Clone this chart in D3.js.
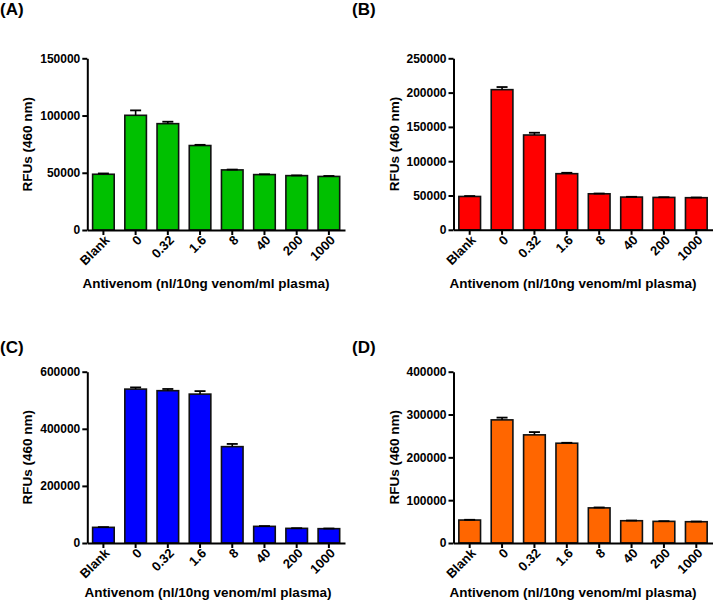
<!DOCTYPE html>
<html>
<head>
<meta charset="utf-8">
<script src="https://cdn.jsdelivr.net/npm/d3@7"></script>
<style>
  html, body { margin: 0; padding: 0; background: #fff; }
  svg { display: block; }
  text { font-family: "Liberation Sans", Arial, sans-serif; font-weight: bold; fill: #000; }
</style>
</head>
<body>
<svg id="chart" width="714" height="604"></svg>
<script>
const categories = ["Blank", "0", "0.32", "1.6", "8", "40", "200", "1000"];

const valuesA = [48700, 100200, 92900, 73800, 52500, 48400, 47500, 46800];
const errorsA = [700, 4300, 1700, 600, 300, 300, 200, 400];
const ticksA = [0, 50000, 100000, 150000];

const valuesB = [48600, 204300, 138200, 81800, 52500, 47700, 47200, 46800];
const errorsB = [600, 3800, 3300, 1300, 400, 400, 300, 300];
const ticksB = [0, 50000, 100000, 150000, 200000, 250000];

const valuesC = [54800, 539000, 533500, 521500, 337500, 58300, 51300, 50200];
const errorsC = [900, 6000, 6000, 10500, 9500, 1000, 600, 600];
const ticksC = [0, 200000, 400000, 600000];

const valuesD = [53600, 287500, 252500, 233000, 82000, 52000, 50500, 49700];
const errorsD = [600, 5300, 6500, 1000, 1000, 500, 500, 500];
const ticksD = [0, 100000, 200000, 300000, 400000];

const panelLabels = ["(A)", "(B)", "(C)", "(D)"];
const yTitle = "RFUs (460 nm)";
const xTitle = "Antivenom (nl/10ng venom/ml plasma)";

const panels = [
  { label: panelLabels[0], values: valuesA, errors: errorsA, ticks: ticksA, color: "#00c000",
    x0: 87.3, x1: 345, yTop: 58.3, yBot: 230, lx: 0, ly: 15, ytx: 27, xtx: 206, xty: 283 },
  { label: panelLabels[1], values: valuesB, errors: errorsB, ticks: ticksB, color: "#ff0000",
    x0: 453.5, x1: 712.5, yTop: 58.3, yBot: 229.8, lx: 352, ly: 15, ytx: 394, xty: 283, xtx: 573 },
  { label: panelLabels[2], values: valuesC, errors: errorsC, ticks: ticksC, color: "#0000ff",
    x0: 87.3, x1: 345, yTop: 371.7, yBot: 543, lx: 0, ly: 353, ytx: 27, xtx: 208, xty: 592 },
  { label: panelLabels[3], values: valuesD, errors: errorsD, ticks: ticksD, color: "#ff6600",
    x0: 453.5, x1: 712.5, yTop: 371.7, yBot: 543, lx: 352, ly: 353, ytx: 394, xtx: 573, xty: 592 }
];

const svg = d3.select("#chart");

panels.forEach(p => {
  const g = svg.append("g");
  const x = d3.scaleBand().domain(categories).range([p.x0, p.x1])
    .paddingInner(0.33).paddingOuter(0.165);
  const ymax = p.ticks[p.ticks.length - 1];
  const y = d3.scaleLinear().domain([0, ymax]).range([p.yBot, p.yTop]);
  const data = categories.map((c, i) => ({ c, v: p.values[i], e: p.errors[i] }));

  // bars
  g.selectAll("rect.bar").data(data).enter().append("rect")
    .attr("class", "bar")
    .attr("x", d => x(d.c))
    .attr("width", x.bandwidth())
    .attr("y", d => y(d.v))
    .attr("height", d => y(0) - y(d.v))
    .attr("fill", p.color)
    .attr("stroke", "#111")
    .attr("stroke-width", 1.6);

  // error bars (upper only)
  const capW = 11;
  const eg = g.selectAll("g.err").data(data).enter().append("g").attr("class", "err");
  eg.append("line")
    .attr("x1", d => x(d.c) + x.bandwidth() / 2)
    .attr("x2", d => x(d.c) + x.bandwidth() / 2)
    .attr("y1", d => y(d.v))
    .attr("y2", d => y(d.v + d.e))
    .attr("stroke", "#000").attr("stroke-width", 1.6);
  eg.append("line")
    .attr("x1", d => x(d.c) + x.bandwidth() / 2 - capW / 2)
    .attr("x2", d => x(d.c) + x.bandwidth() / 2 + capW / 2)
    .attr("y1", d => y(d.v + d.e))
    .attr("y2", d => y(d.v + d.e))
    .attr("stroke", "#000").attr("stroke-width", 1.8);

  // y axis
  const yAxis = d3.axisLeft(y).tickValues(p.ticks).tickFormat(d3.format("d"))
    .tickSize(5).tickSizeOuter(0).tickPadding(2);
  const ya = g.append("g").attr("transform", `translate(${p.x0},0)`).call(yAxis);
  ya.select(".domain").attr("stroke", "#000").attr("stroke-width", 2);
  ya.selectAll(".tick line").attr("stroke", "#000").attr("stroke-width", 2);
  ya.selectAll(".tick text").style("font-size", "12px").style("font-weight", "bold")
    .attr("fill", "#000").style("font-family", "'Liberation Sans', Arial, sans-serif");

  // x axis
  const xAxis = d3.axisBottom(x).tickSize(5).tickSizeOuter(0);
  const xa = g.append("g").attr("transform", `translate(0,${p.yBot})`).call(xAxis);
  xa.select(".domain").attr("stroke", "#000").attr("stroke-width", 2);
  xa.selectAll(".tick line").attr("stroke", "#000").attr("stroke-width", 2);
  xa.selectAll(".tick text")
    .style("font-size", "13px").style("font-weight", "bold")
    .attr("fill", "#000").style("font-family", "'Liberation Sans', Arial, sans-serif")
    .attr("text-anchor", "end")
    .attr("x", 0).attr("y", 0).attr("dy", null)
    .attr("transform", "translate(7,11) rotate(-45)");

  // y title
  g.append("text")
    .attr("transform", `translate(${p.ytx},${(p.yTop + p.yBot) / 2}) rotate(-90)`)
    .attr("text-anchor", "middle")
    .attr("dy", "0.35em")
    .style("font-size", "13.5px")
    .text(yTitle);

  // x title
  g.append("text")
    .attr("x", p.xtx).attr("y", p.xty)
    .attr("text-anchor", "middle")
    .attr("dy", "0.35em")
    .style("font-size", "13.5px")
    .text(xTitle);

  // panel label
  g.append("text")
    .attr("x", p.lx).attr("y", p.ly)
    .style("font-size", "17px")
    .text(p.label);
});
</script>
</body>
</html>
